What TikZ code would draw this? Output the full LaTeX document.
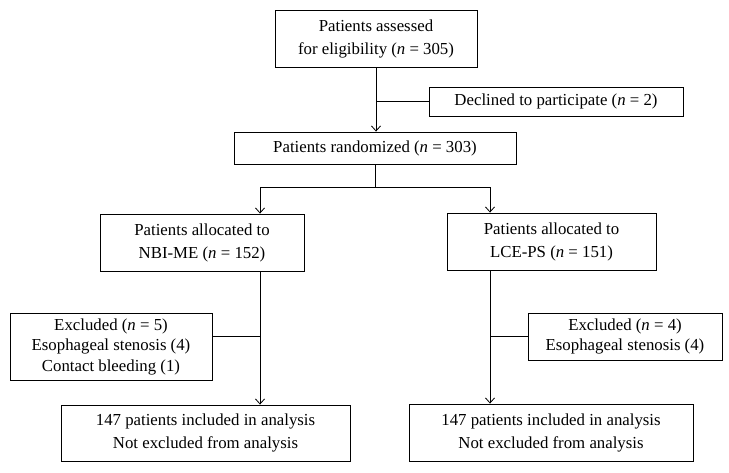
\documentclass[tikz,border=0pt]{standalone}
\usepackage{fontspec}
\setmainfont{Liberation Serif}
\usetikzlibrary{arrows.meta}
\begin{document}
\begin{tikzpicture}[x=1pt,y=-1pt,
  box/.style={draw, line width=0.9pt, align=center, inner sep=0pt, font=\fontsize{16.8}{23}\selectfont},
  tight/.style={font=\fontsize{16.8}{20.5}\selectfont},
  conn/.style={line width=0.8pt},
  arr/.style={conn, -{Straight Barb[length=5pt,width=9pt]}}]
\useasboundingbox (0,0) rectangle (729,472);
\node[box, minimum width=202pt, minimum height=57pt] (top) at (376,38.5) {Patients assessed\\for eligibility (\textit{n} = 305)};
\node[box, minimum width=254pt, minimum height=29pt] (declined) at (556,101.5) {Declined to participate (\textit{n} = 2)};
\node[box, minimum width=282pt, minimum height=32pt] (rand) at (375,148) {Patients randomized (\textit{n} = 303)};
\node[box, minimum width=204pt, minimum height=57pt] (allocL) at (202,242.5) {Patients allocated to\\NBI-ME (\textit{n} = 152)};
\node[box, minimum width=209pt, minimum height=57pt] (allocR) at (551.5,241.5) {Patients allocated to\\LCE-PS (\textit{n} = 151)};
\node[box, tight, minimum width=202pt, minimum height=67pt] (exclL) at (111,346.5) {Excluded (\textit{n} = 5)\\Esophageal stenosis (4)\\Contact bleeding (1)};
\node[box, tight, minimum width=194pt, minimum height=47pt] (exclR) at (625,336.5) {Excluded (\textit{n} = 4)\\Esophageal stenosis (4)};
\node[box, minimum width=289pt, minimum height=56pt] (anaL) at (205.5,433) {147 patients included in analysis\\Not excluded from analysis};
\node[box, minimum width=284pt, minimum height=57pt] (anaR) at (551,432.5) {147 patients included in analysis\\Not excluded from analysis};
\coordinate (sL) at (260,187);
\coordinate (sR) at (490,187);
\coordinate (bL) at (260,336);
\coordinate (bR) at (490,336);
\draw[arr] (top.south) -- (top.south |- rand.north);
\draw[conn] (top.south |- declined.west) -- (declined.west);
\draw[conn] (rand.south) -- (rand.south |- sL);
\draw[conn] (sL) -- (sR);
\draw[arr] (sL) -- (sL |- allocL.north);
\draw[arr] (sR) -- (sR |- allocR.north);
\draw[arr] (sL |- allocL.south) -- (sL |- anaL.north);
\draw[arr] (sR |- allocR.south) -- (sR |- anaR.north);
\draw[conn] (exclL.east |- bL) -- (bL);
\draw[conn] (bR) -- (exclR.west |- bR);
\end{tikzpicture}
\end{document}
